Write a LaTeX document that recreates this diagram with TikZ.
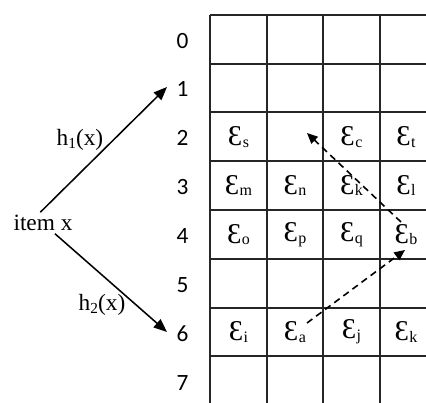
\documentclass[tikz,border=0pt]{standalone}
\usepackage{fontspec}
\setmainfont{Liberation Serif}
\newfontfamily\numfont{Carlito}
\usetikzlibrary{arrows.meta}
\newcommand{\ep}[1]{Ɛ\kern0.02em\raisebox{-0.06em}{\fontsize{12}{12}\selectfont #1}}
\newcommand{\hsub}[1]{h\raisebox{-0.12em}{\fontsize{11.5}{11.5}\selectfont #1}(x)}
\tikzset{
  gridline/.style={line width=1pt, black!85},
  cell/.style={inner sep=2pt, font=\fontsize{21.5}{21.5}\selectfont},
  rownum/.style={inner sep=2pt, font=\numfont\fontsize{17.5}{17.5}\selectfont},
  lbl/.style={inner sep=2pt, font=\fontsize{17.5}{17.5}\selectfont},
  hasharrow/.style={line width=1.15pt, -{Triangle[length=10pt,width=8pt]}},
  probe/.style={line width=1.2pt, dash pattern=on 5pt off 3.5pt, -{Triangle[length=8pt,width=7pt]}}
}
\begin{document}
\begin{tikzpicture}[x=0.75pt,y=-0.75pt]
\useasboundingbox (0,0) rectangle (426,403);
\begin{scope}
\clip (0,0) rectangle (426,403);
\foreach \xx in {210,267,323,380} \draw[gridline] (\xx,15) -- (\xx,410);
\foreach \yy in {15,64,112,161,210,259,308,356} \draw[gridline] (210,\yy) -- (430,\yy);
\end{scope}
% row numbers
\foreach \r/\yy in {0/41,1/89,2/138,3/187,4/236,5/285,6/334,7/383}
  \node[rownum] (n\r) at (182.5,\yy) {\r};
% cells
\node[cell] (es) at (238.5,137) {\ep{s}};
\node[cell] (ec) at (351.5,137) {\ep{c}};
\node[cell] (et) at (406,137) {\ep{t}};
\node[cell] (em) at (238.5,185.5) {\ep{m}};
\node[cell] (en) at (295,185.5) {\ep{n}};
\node[cell] (ek) at (351.5,185.5) {\ep{k}};
\node[cell] (el) at (406,185.5) {\ep{l}};
\node[cell] (eo) at (238.5,234.5) {\ep{o}};
\node[cell] (ep) at (295,234.5) {\ep{p}};
\node[cell] (eq) at (351.5,234.5) {\ep{q}};
\node[cell] (eb) at (406,234.5) {\ep{b}};
\node[cell] (ei) at (238.5,332) {\ep{i}};
\node[cell] (ea) at (295,332) {\ep{a}};
\node[cell] (ej) at (351.5,332) {\ep{j}};
\node[cell] (ek2) at (406,332) {\ep{k}};
\coordinate (t21) at (307,133);
% left part
\node[lbl] (item) at (43,223) {item x};
\node[lbl] (h1) at (80,140) {\hsub{1}};
\node[lbl] (h2) at (102,305) {\hsub{2}};
\draw[hasharrow] ([xshift=-2pt]item.north) -- ([xshift=-5pt,yshift=1.5pt]n1.west);
\draw[hasharrow] ([xshift=9pt]item.south) -- ([xshift=-5pt,yshift=1.5pt]n6.west);
% probe arrows
\coordinate (sa) at (307,323);
\coordinate (tb) at (405,250);
\coordinate (sb) at (401,222);
\draw[probe] (sa) -- (tb);
\draw[probe] (sb) -- (t21);
\end{tikzpicture}
\end{document}
